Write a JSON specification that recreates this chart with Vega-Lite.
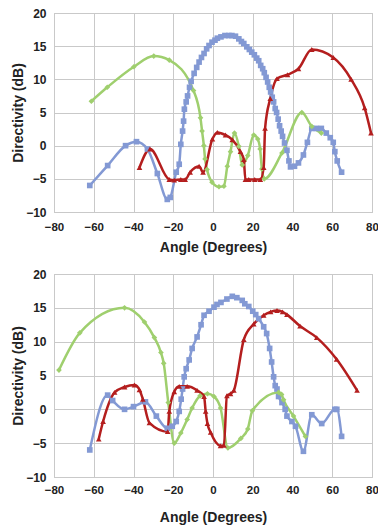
{
  "$schema": "https://vega.github.io/schema/vega-lite/v6.json",
  "background": "white",
  "padding": {"left": 11, "top": 6, "right": 0, "bottom": 2},
  "spacing": 12,
  "config": {
    "view": {"stroke": "#bdbdbd", "strokeWidth": 1},
    "axis": {
      "grid": true, "gridColor": "#c9c9c9", "gridWidth": 1,
      "domain": false, "ticks": false, "labelFlush": false,
      "labelFont": "Liberation Sans", "labelFontWeight": "bold", "labelFontSize": 12, "labelColor": "#222222",
      "titleFont": "Liberation Sans", "titleFontWeight": "bold", "titleFontSize": 14, "titleColor": "#222222"
    },
    "axisX": {"labelFontSize": 11.5}
  },
  "datasets": {
    "top": [
      {"s":"blue","a":-62,"d":-6},{"s":"blue","a":-53,"d":-3},{"s":"blue","a":-44,"d":0},{"s":"blue","a":-38.5,"d":0.6},{"s":"blue","a":-33,"d":-0.5},{"s":"blue","a":-28,"d":-4.2},{"s":"blue","a":-23,"d":-8.1},{"s":"blue","a":-21.5,"d":-7.8},{"s":"blue","a":-18.5,"d":-4},{"s":"blue","a":-17,"d":-2.8},{"s":"blue","a":-16.2,"d":0.2},{"s":"blue","a":-15.3,"d":2.2},{"s":"blue","a":-14.8,"d":3.7},{"s":"blue","a":-14.4,"d":5.5},{"s":"blue","a":-13.5,"d":6.6},{"s":"blue","a":-12.8,"d":7.5},{"s":"blue","a":-11.8,"d":8.8},{"s":"blue","a":-11,"d":9.7},{"s":"blue","a":-9.5,"d":10.9},{"s":"blue","a":-8.2,"d":11.8},{"s":"blue","a":-7,"d":12.6},{"s":"blue","a":-5.8,"d":13.3},{"s":"blue","a":-4.5,"d":13.9},{"s":"blue","a":-3.2,"d":14.6},{"s":"blue","a":-2,"d":15.1},{"s":"blue","a":-0.5,"d":15.6},{"s":"blue","a":1,"d":15.9},{"s":"blue","a":2.2,"d":16.2},{"s":"blue","a":4,"d":16.4},{"s":"blue","a":6,"d":16.6},{"s":"blue","a":8,"d":16.6},{"s":"blue","a":9.5,"d":16.6},{"s":"blue","a":11.3,"d":16.5},{"s":"blue","a":13,"d":16.1},{"s":"blue","a":14.3,"d":15.7},{"s":"blue","a":15.5,"d":15.4},{"s":"blue","a":17,"d":14.9},{"s":"blue","a":18.3,"d":14.5},{"s":"blue","a":19.5,"d":14.1},{"s":"blue","a":20.8,"d":13.7},{"s":"blue","a":22,"d":13.2},{"s":"blue","a":23,"d":12.8},{"s":"blue","a":24,"d":12.1},{"s":"blue","a":25,"d":11.6},{"s":"blue","a":25.8,"d":11},{"s":"blue","a":26.7,"d":10.3},{"s":"blue","a":27.5,"d":9.6},{"s":"blue","a":28.3,"d":8.8},{"s":"blue","a":29,"d":8.1},{"s":"blue","a":29.8,"d":7.3},{"s":"blue","a":30.5,"d":6.6},{"s":"blue","a":31.3,"d":5.6},{"s":"blue","a":32,"d":5},{"s":"blue","a":32.8,"d":4},{"s":"blue","a":33.5,"d":3},{"s":"blue","a":34.3,"d":2.2},{"s":"blue","a":35,"d":1.4},{"s":"blue","a":36,"d":0.4},{"s":"blue","a":37.2,"d":-0.7},{"s":"blue","a":38.2,"d":-2.3},{"s":"blue","a":39,"d":-3.2},{"s":"blue","a":41,"d":-3.1},{"s":"blue","a":43,"d":-2.6},{"s":"blue","a":45.5,"d":-1.4},{"s":"blue","a":47.5,"d":0.5},{"s":"blue","a":49.7,"d":2.6},{"s":"blue","a":52,"d":2.6},{"s":"blue","a":54.5,"d":2.6},{"s":"blue","a":57,"d":1.9},{"s":"blue","a":59,"d":1.2},{"s":"blue","a":60.5,"d":0.5},{"s":"blue","a":61.3,"d":-0.9},{"s":"blue","a":62.5,"d":-2.3},{"s":"blue","a":64.7,"d":-4},
      {"s":"green","a":-61.2,"d":6.7},{"s":"green","a":-53.2,"d":8.8},{"s":"green","a":-39.8,"d":11.9},{"s":"green","a":-29.8,"d":13.5},{"s":"green","a":-22,"d":12.9},{"s":"green","a":-9.8,"d":8.3},{"s":"green","a":-6.3,"d":4.2},{"s":"green","a":-5.5,"d":2.2},{"s":"green","a":-4.6,"d":0},{"s":"green","a":-4,"d":-2},{"s":"green","a":-3,"d":-3.6},{"s":"green","a":-0.5,"d":-5.5},{"s":"green","a":3,"d":-6.2},{"s":"green","a":5.5,"d":-6.1},{"s":"green","a":7.2,"d":-3.1},{"s":"green","a":8.8,"d":-0.9},{"s":"green","a":10.8,"d":1.9},{"s":"green","a":13,"d":-0.1},{"s":"green","a":14.7,"d":-2.9},{"s":"green","a":17.5,"d":-1.5},{"s":"green","a":20.5,"d":1.6},{"s":"green","a":22.5,"d":1},{"s":"green","a":23.7,"d":-0.5},{"s":"green","a":24.6,"d":-3.5},{"s":"green","a":25.8,"d":-5},{"s":"green","a":34.7,"d":-1.1},{"s":"green","a":44.7,"d":5},{"s":"green","a":49.7,"d":2.9},{"s":"green","a":54.5,"d":1.9},
      {"s":"red","a":-37,"d":-3.3},{"s":"red","a":-31.7,"d":-0.5},{"s":"red","a":-22,"d":-5.1},{"s":"red","a":-19.5,"d":-5.2},{"s":"red","a":-16.2,"d":-5.1},{"s":"red","a":-14,"d":-5.1},{"s":"red","a":-11.5,"d":-4},{"s":"red","a":-7,"d":-3.1},{"s":"red","a":-5,"d":-4},{"s":"red","a":-0.3,"d":1},{"s":"red","a":2.2,"d":2},{"s":"red","a":6.3,"d":1.6},{"s":"red","a":9.7,"d":0.9},{"s":"red","a":13.8,"d":-0.9},{"s":"red","a":15.5,"d":-2.1},{"s":"red","a":16.3,"d":-5.1},{"s":"red","a":18,"d":-5.1},{"s":"red","a":21,"d":-5.1},{"s":"red","a":23.8,"d":-5.1},{"s":"red","a":25.5,"d":-3.3},{"s":"red","a":26.2,"d":2.6},{"s":"red","a":28.8,"d":7.1},{"s":"red","a":32.2,"d":10.1},{"s":"red","a":37.5,"d":10.7},{"s":"red","a":43,"d":11.6},{"s":"red","a":49.7,"d":14.5},{"s":"red","a":60.5,"d":13.3},{"s":"red","a":69.5,"d":10},{"s":"red","a":76.3,"d":5.7},{"s":"red","a":79.5,"d":1.9}
    ],
    "bottom": [
      {"s":"blue","a":-62,"d":-6},{"s":"blue","a":-53,"d":2.1},{"s":"blue","a":-50.5,"d":1.3},{"s":"blue","a":-44.5,"d":0},{"s":"blue","a":-40,"d":0.4},{"s":"blue","a":-34,"d":1.1},{"s":"blue","a":-28.5,"d":-1},{"s":"blue","a":-23,"d":-2.8},{"s":"blue","a":-20.5,"d":-2.5},{"s":"blue","a":-18.5,"d":-1.8},{"s":"blue","a":-17,"d":-0.3},{"s":"blue","a":-16,"d":1.5},{"s":"blue","a":-15.3,"d":3},{"s":"blue","a":-14.5,"d":4.8},{"s":"blue","a":-13.5,"d":6},{"s":"blue","a":-12,"d":7.3},{"s":"blue","a":-10.5,"d":9},{"s":"blue","a":-8,"d":10.7},{"s":"blue","a":-6,"d":12.5},{"s":"blue","a":-4.5,"d":13.9},{"s":"blue","a":-2,"d":14.5},{"s":"blue","a":0.5,"d":15.1},{"s":"blue","a":2,"d":15.5},{"s":"blue","a":4,"d":15.8},{"s":"blue","a":7,"d":16.3},{"s":"blue","a":9.7,"d":16.7},{"s":"blue","a":12,"d":16.5},{"s":"blue","a":14.7,"d":16.1},{"s":"blue","a":16,"d":15.6},{"s":"blue","a":18,"d":15.2},{"s":"blue","a":20,"d":14.5},{"s":"blue","a":21.5,"d":14},{"s":"blue","a":23,"d":13.4},{"s":"blue","a":25.5,"d":12.2},{"s":"blue","a":27,"d":11.2},{"s":"blue","a":28.5,"d":9},{"s":"blue","a":29.5,"d":7},{"s":"blue","a":30.5,"d":4.8},{"s":"blue","a":31.3,"d":3.5},{"s":"blue","a":32.2,"d":3},{"s":"blue","a":33,"d":1.9},{"s":"blue","a":34.7,"d":1},{"s":"blue","a":36.3,"d":0},{"s":"blue","a":37.2,"d":-1},{"s":"blue","a":39.7,"d":-1.8},{"s":"blue","a":41.5,"d":-2.5},{"s":"blue","a":45.5,"d":-6.2},{"s":"blue","a":49.7,"d":-0.8},{"s":"blue","a":54.7,"d":-2.1},{"s":"blue","a":61.3,"d":0},{"s":"blue","a":62.3,"d":0},{"s":"blue","a":64.7,"d":-4},
      {"s":"green","a":-77.5,"d":5.8},{"s":"green","a":-67,"d":11.3},{"s":"green","a":-44.5,"d":15},{"s":"green","a":-34.5,"d":12.9},{"s":"green","a":-29.5,"d":10.6},{"s":"green","a":-26.2,"d":8.4},{"s":"green","a":-24.8,"d":6.8},{"s":"green","a":-22.5,"d":1},{"s":"green","a":-19.5,"d":-5},{"s":"green","a":-16.2,"d":-3.5},{"s":"green","a":-13,"d":-1.5},{"s":"green","a":-10.5,"d":0.2},{"s":"green","a":-6.5,"d":2},{"s":"green","a":-2.8,"d":2.3},{"s":"green","a":0.5,"d":1.9},{"s":"green","a":3.8,"d":0.2},{"s":"green","a":7.5,"d":-5.7},{"s":"green","a":14,"d":-4.3},{"s":"green","a":17.5,"d":-2.9},{"s":"green","a":19.8,"d":-0.2},{"s":"green","a":33,"d":2.5},{"s":"green","a":34.5,"d":2.2},{"s":"green","a":35.5,"d":1.4},{"s":"green","a":40.5,"d":-1},{"s":"green","a":46.5,"d":-4},
      {"s":"red","a":-57.5,"d":-4.4},{"s":"red","a":-55.3,"d":-1.8},{"s":"red","a":-49.5,"d":2.5},{"s":"red","a":-44.5,"d":3.3},{"s":"red","a":-39.5,"d":3.6},{"s":"red","a":-37,"d":2.9},{"s":"red","a":-35.3,"d":1.5},{"s":"red","a":-32,"d":-2},{"s":"red","a":-22.8,"d":-3.3},{"s":"red","a":-22,"d":-0.3},{"s":"red","a":-19.5,"d":2.6},{"s":"red","a":-17,"d":3.4},{"s":"red","a":-13,"d":3.4},{"s":"red","a":-8,"d":2.8},{"s":"red","a":-4.5,"d":1.9},{"s":"red","a":-3.7,"d":-0.3},{"s":"red","a":-2.8,"d":-2.1},{"s":"red","a":-1.2,"d":-3.4},{"s":"red","a":3.8,"d":-5.4},{"s":"red","a":5.5,"d":-5.3},{"s":"red","a":7,"d":2},{"s":"red","a":8.8,"d":2.3},{"s":"red","a":10.5,"d":2.8},{"s":"red","a":15.5,"d":10.3},{"s":"red","a":20.5,"d":12.6},{"s":"red","a":25.5,"d":13.9},{"s":"red","a":29,"d":14.4},{"s":"red","a":32.2,"d":14.6},{"s":"red","a":35,"d":14.4},{"s":"red","a":37.2,"d":14},{"s":"red","a":43.8,"d":12.3},{"s":"red","a":52.2,"d":10.6},{"s":"red","a":62.2,"d":7.4},{"s":"red","a":72.5,"d":2.8}
    ]
  },
  "vconcat": [
    {
      "width": 318, "height": 199,
      "data": {"name": "top"},
      "encoding": {
        "x": {"field": "a", "type": "quantitative", "scale": {"domain": [-80, 80], "nice": false}, "axis": {"values": [-80,-60,-40,-20,0,20,40,60,80], "title": "Angle (Degrees)", "labelPadding": 9, "titlePadding": 8}},
        "y": {"field": "d", "type": "quantitative", "scale": {"domain": [-10, 20], "nice": false}, "axis": {"values": [-10,-5,0,5,10,15,20], "title": "Directivity (dB)", "labelPadding": 8, "titlePadding": 0}},
        "color": {"field": "s", "type": "nominal", "scale": {"domain": ["blue","green","red"], "range": ["#8399d4","#9fcf6e","#b41e1e"]}, "legend": null}
      },
      "layer": [
        {"mark": {"type": "line", "interpolate": "monotone", "strokeWidth": 2.5}, "encoding": {"detail": {"field": "s"}}},
        {"mark": {"type": "point", "filled": true, "opacity": 1, "size": 32}, "encoding": {"shape": {"field": "s", "type": "nominal", "scale": {"domain": ["blue","green","red"], "range": ["square","diamond","triangle-up"]}, "legend": null}}}
      ]
    },
    {
      "width": 318, "height": 203,
      "data": {"name": "bottom"},
      "encoding": {
        "x": {"field": "a", "type": "quantitative", "scale": {"domain": [-80, 80], "nice": false}, "axis": {"values": [-80,-60,-40,-20,0,20,40,60,80], "title": "Angle (Degrees)", "labelPadding": 7, "titlePadding": 15}},
        "y": {"field": "d", "type": "quantitative", "scale": {"domain": [-10, 20], "nice": false}, "axis": {"values": [-10,-5,0,5,10,15,20], "title": "Directivity (dB)", "labelPadding": 8, "titlePadding": 0}},
        "color": {"field": "s", "type": "nominal", "scale": {"domain": ["blue","green","red"], "range": ["#8399d4","#9fcf6e","#b41e1e"]}, "legend": null}
      },
      "layer": [
        {"mark": {"type": "line", "interpolate": "monotone", "strokeWidth": 2.5}, "encoding": {"detail": {"field": "s"}}},
        {"mark": {"type": "point", "filled": true, "opacity": 1, "size": 32}, "encoding": {"shape": {"field": "s", "type": "nominal", "scale": {"domain": ["blue","green","red"], "range": ["square","diamond","triangle-up"]}, "legend": null}}}
      ]
    }
  ]
}
